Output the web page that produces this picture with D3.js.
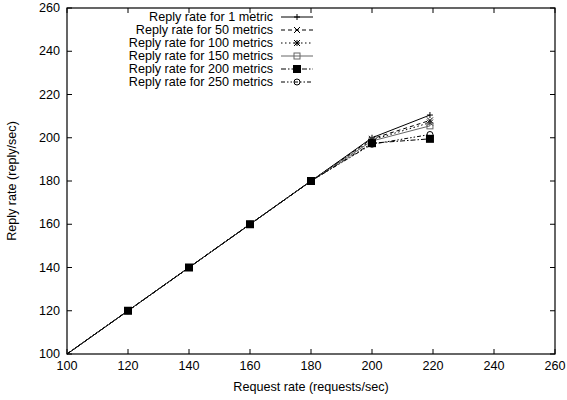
<!DOCTYPE html>
<html><head><meta charset="utf-8">
<script src="https://cdn.jsdelivr.net/npm/d3@7"></script>
<style>body{margin:0;background:#fff}svg{display:block}text{font-family:"Liberation Sans",Arial,sans-serif;font-size:12.6px;fill:#000}</style>
</head><body><svg id="c" width="567" height="400"></svg>
<script>
const requestRates = [100, 120, 140, 160, 180, 200, 219];
const seriesNames = ["Reply rate for 1 metric","Reply rate for 50 metrics","Reply rate for 100 metrics","Reply rate for 150 metrics","Reply rate for 200 metrics","Reply rate for 250 metrics"];
const s1   = [100, 120, 140, 160, 180, 200, 210.5];
const s50  = [100, 120, 140, 160, 180, 199.5, 208];
const s100 = [100, 120, 140, 160, 180, 199, 207];
const s150 = [100, 120, 140, 160, 180, 198.5, 205.5];
const s200 = [100, 120, 140, 160, 180, 197.5, 199.5];
const s250 = [100, 120, 140, 160, 180, 197, 201.5];
const xTicks = [100,120,140,160,180,200,220,240,260];
const yTicks = [100,120,140,160,180,200,220,240,260];

const allSeries = [s1,s50,s100,s150,s200,s250];
const dashes = [null,"4,3","1.5,2.5",null,"5,2,1.5,2","4,2,1.5,2,1.5,2"];
const strokes = ["#000","#000","#000","#666","#000","#000"];
const markers = ["plus","cross","star","sqOpen","sqFill","circle"];

const L=67,R=555,T=8,B=354;
const svg=d3.select("#c");
const x=d3.scaleLinear().domain([100,260]).range([L,R]);
const y=d3.scaleLinear().domain([100,260]).range([B,T]);

const tl=5;
const g=svg.append("g").attr("stroke","#000").attr("stroke-width",1);
xTicks.forEach(v=>{
  g.append("line").attr("x1",x(v)).attr("x2",x(v)).attr("y1",B).attr("y2",B-tl);
  g.append("line").attr("x1",x(v)).attr("x2",x(v)).attr("y1",T).attr("y2",T+tl);
});
yTicks.forEach(v=>{
  g.append("line").attr("x1",L).attr("x2",L+tl).attr("y1",y(v)).attr("y2",y(v));
  g.append("line").attr("x1",R).attr("x2",R-tl).attr("y1",y(v)).attr("y2",y(v));
});
svg.append("rect").attr("x",L).attr("y",T).attr("width",R-L).attr("height",B-T).attr("fill","none").attr("stroke","#000").attr("stroke-width",1.2);

svg.selectAll(".xl").data(xTicks).enter().append("text").attr("x",d=>x(d)).attr("y",B+16).attr("text-anchor","middle").text(d=>d);
svg.selectAll(".yl").data(yTicks).enter().append("text").attr("x",L-7).attr("y",d=>y(d)+4).attr("text-anchor","end").text(d=>d);
svg.append("text").attr("x",(L+R)/2).attr("y",391).attr("text-anchor","middle").text("Request rate (requests/sec)");
svg.append("text").attr("transform",`translate(16,${(T+B)/2}) rotate(-90)`).attr("text-anchor","middle").text("Reply rate (reply/sec)");

function marker(sel,type,cx,cy,col){
  const s=3;
  if(type==="plus"){
    sel.append("path").attr("d",`M${cx-s},${cy}H${cx+s}M${cx},${cy-s}V${cy+s}`).attr("stroke",col).attr("fill","none");
  } else if(type==="cross"){
    sel.append("path").attr("d",`M${cx-s},${cy-s}L${cx+s},${cy+s}M${cx-s},${cy+s}L${cx+s},${cy-s}`).attr("stroke",col).attr("fill","none");
  } else if(type==="star"){
    sel.append("path").attr("d",`M${cx-s},${cy}H${cx+s}M${cx},${cy-s}V${cy+s}M${cx-s},${cy-s}L${cx+s},${cy+s}M${cx-s},${cy+s}L${cx+s},${cy-s}`).attr("stroke",col).attr("fill","none");
  } else if(type==="sqOpen"){
    sel.append("rect").attr("x",cx-s).attr("y",cy-s).attr("width",2*s).attr("height",2*s).attr("fill","none").attr("stroke",col);
  } else if(type==="sqFill"){
    sel.append("rect").attr("x",cx-4).attr("y",cy-4).attr("width",8).attr("height",8).attr("fill",col);
  } else {
    sel.append("circle").attr("cx",cx).attr("cy",cy).attr("r",s).attr("fill","none").attr("stroke",col);
  }
}

const line=d3.line().x((d,i)=>x(requestRates[i])).y(d=>y(d));
const plot=svg.append("g");
allSeries.forEach((s,k)=>{
  plot.append("path").datum(s).attr("d",line).attr("fill","none").attr("stroke",strokes[k])
    .attr("stroke-width",1).attr("stroke-dasharray",dashes[k]);
  s.forEach((v,i)=>{
    // points lying on the frame are clipped, as in the original plot
    if(requestRates[i]<=x.domain()[0]) return;
    marker(plot,markers[k],x(requestRates[i]),y(v),strokes[k]);
  });
});

const lg=svg.append("g");
seriesNames.forEach((n,k)=>{
  const yy=17+k*13;
  lg.append("text").attr("x",273).attr("y",yy+4).attr("text-anchor","end").text(n);
  lg.append("line").attr("x1",281).attr("x2",313).attr("y1",yy).attr("y2",yy).attr("stroke",strokes[k]).attr("stroke-dasharray",dashes[k]);
  marker(lg,markers[k],297,yy,strokes[k]);
});
</script></body></html>
